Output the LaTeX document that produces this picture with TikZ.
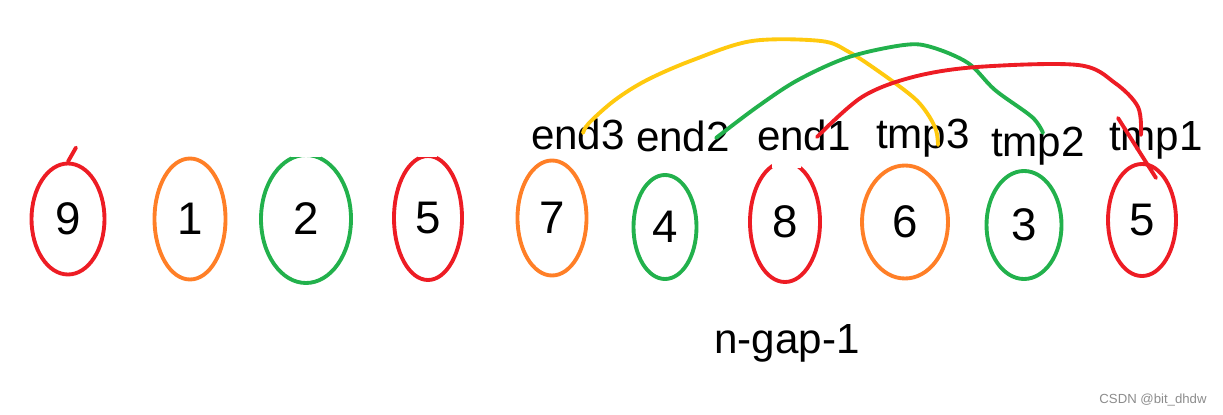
\documentclass[tikz,border=0pt]{standalone}
\usepackage{fontspec}
\setmainfont{Liberation Sans}
\usepackage{tikz}
\usetikzlibrary{shapes.geometric}
\definecolor{pred}{RGB}{237,28,36}
\definecolor{porange}{RGB}{255,127,39}
\definecolor{pgreen}{RGB}{34,177,76}
\definecolor{pyellow}{RGB}{255,201,14}
\tikzset{
  cellbox/.style = {ellipse,draw,line width=2.2pt,inner sep=0pt,
                    font=\fontsize{26}{26}\selectfont},
  tag/.style     = {anchor=base,font=\fontsize{24}{24}\selectfont},
  link/.style    = {line width=2.2pt,line cap=round,line join=round}
}
% #1 name, #2 x, #3 y, #4 colour, #5 x radius, #6 y radius, #7 digit
\newcommand{\numcell}[7]{%
  \node[cellbox,#4,text=black,minimum width=2*#5*0.02cm,
        minimum height=2*#6*0.02cm] (#1) at (#2,#3) {#7};
}

\begin{document}
\begin{tikzpicture}[x=0.02cm,y=-0.02cm]
  \useasboundingbox (0,0) rectangle (1223,415);
  % the row of numbers
  \numcell{c1}{68}{219}{pred}{36.5}{55.5}{9}
  \numcell{c2}{306}{219}{pgreen}{45}{64}{2}
  \numcell{c3}{190}{219}{porange}{35.5}{60.5}{1}
  \numcell{c4}{428}{218}{pred}{34}{62}{5}
  \numcell{c5}{552}{218}{porange}{34.5}{57.5}{7}
  \numcell{c6}{665}{227}{pgreen}{31.5}{52}{4}
  \numcell{c7}{785}{222}{pred}{35}{60}{8}
  \numcell{c8}{905}{222}{porange}{43}{56.5}{6}
  \numcell{c9}{1024}{225}{pgreen}{37.5}{54}{3}
  \numcell{c10}{1142}{220}{pred}{34}{56}{5}
  % gaps at the top of some ellipses
  \fill[white] (291,140) rectangle (321,157.5);
  \fill[white] (418,140) rectangle (437,157.5);
  \fill[white] (772,140) rectangle (801,168);
  % labels
  \node[tag] (end3) at (578,150) {end3};
  \node[tag] (end2) at (683,152) {end2};
  \node[tag] (end1) at (804,151) {end1};
  \node[tag] (tmp3) at (923,149) {tmp3};
  \node[tag] (tmp2) at (1038,157) {tmp2};
  \node[tag] (tmp1) at (1156,151) {tmp1};
  \node[tag] (gap) at (787,353) {n-gap-1};
  \node[anchor=base,font=\fontsize{7.5}{7.5}\selectfont,text=black!45]
       (mark) at (1153,403) {CSDN @bit\_dhdw};
  % arcs end -> tmp
  \draw[link,pyellow] plot[smooth,tension=0.55] coordinates {
    ([shift={(5,-17)}]end3.base) (589,123) (615,100) (647,80) (693,60)
    (752,41) (821,41) (849,52) (881,73) (913,97) (927,113) (936,130)
    ([shift={(15,-4)}]tmp3.base)};
  \draw[link,pgreen] plot[smooth,tension=0.55] coordinates {
    ([shift={(33,-14)}]end2.base) (757,107) (798,80) (849,57) (904,45)
    (931,47) (968,63) (995,90) (1032,117) ([shift={(5,-24)}]tmp2.base)};
  \draw[link,pred] plot[smooth,tension=0.55] coordinates {
    ([shift={(13,-14)}]end1.base) (862,97) (913,77) (977,67) (1078,65)
    (1115,83) (1138,107) ([shift={(-15,-16)}]tmp1.base)};
  \draw[link,pred] ([shift={(-38,-33)}]tmp1.base) -- ([shift={(0,27)}]tmp1.base);
  \draw[link,pred] (c1.north) -- ++(4,-7) -- ++(4,-7);
\end{tikzpicture}
\end{document}
